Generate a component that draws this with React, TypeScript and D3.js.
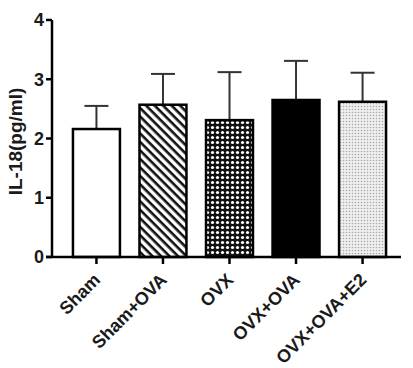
import { useEffect, useRef } from "react"
import * as d3 from "d3"

const groups = ["Sham", "Sham+OVA", "OVX", "OVX+OVA", "OVX+OVA+E2"]
const means = [2.16, 2.57, 2.31, 2.65, 2.62]
const errors = [0.39, 0.52, 0.81, 0.66, 0.49]
const fills = ["#fff", "url(#stripes)", "url(#dots)", "#000", "url(#fine)"]
const yTicks = [0, 1, 2, 3, 4]

export default function App() {
  const svgRef = useRef<SVGSVGElement>(null)

  useEffect(() => {
    if (!svgRef.current) return
    const root = d3.select(svgRef.current)
    root.selectAll("*").remove()

    const font = "'Liberation Sans', Arial, sans-serif"
    const ink = "#1a1a1a"

    // fill patterns
    const defs = root.append("defs")
    const stripes = defs
      .append("pattern")
      .attr("id", "stripes")
      .attr("patternUnits", "userSpaceOnUse")
      .attr("width", 6)
      .attr("height", 6)
      .attr("patternTransform", "rotate(45)")
    stripes.append("rect").attr("width", 6).attr("height", 6).attr("fill", "#fff")
    stripes.append("rect").attr("width", 6).attr("height", 2.6).attr("fill", "#111")

    const dots = defs
      .append("pattern")
      .attr("id", "dots")
      .attr("patternUnits", "userSpaceOnUse")
      .attr("width", 5)
      .attr("height", 5)
    dots.append("rect").attr("width", 5).attr("height", 5).attr("fill", "#111")
    dots.append("circle").attr("cx", 2.5).attr("cy", 2.5).attr("r", 1.6).attr("fill", "#fff")

    const fine = defs
      .append("pattern")
      .attr("id", "fine")
      .attr("patternUnits", "userSpaceOnUse")
      .attr("width", 3)
      .attr("height", 3)
    fine.append("rect").attr("width", 3).attr("height", 3).attr("fill", "#efefef")
    fine.append("circle").attr("cx", 1.5).attr("cy", 1.5).attr("r", 0.8).attr("fill", "#a8a8a8")

    const axisX = 52
    const x = d3.scaleBand<string>().domain(groups).range([axisX, 407]).paddingInner(0.294).paddingOuter(0.315)
    const y = d3.scaleLinear().domain([0, 4]).range([257, 20])

    const g = root.append("g")

    // error bars (upper only)
    groups.forEach((name, i) => {
      const cx = x(name)! + x.bandwidth() / 2
      const top = y(means[i] + errors[i])
      g.append("line")
        .attr("x1", cx)
        .attr("x2", cx)
        .attr("y1", y(means[i]))
        .attr("y2", top)
        .attr("stroke", "#333")
        .attr("stroke-width", 2)
      g.append("line")
        .attr("x1", cx - 12)
        .attr("x2", cx + 12)
        .attr("y1", top)
        .attr("y2", top)
        .attr("stroke", "#333")
        .attr("stroke-width", 2)
    })

    // bars
    g.selectAll(".bar")
      .data(groups)
      .enter()
      .append("rect")
      .attr("x", (d) => x(d)!)
      .attr("y", (d, i) => y(means[i]))
      .attr("width", x.bandwidth())
      .attr("height", (d, i) => y(0) - y(means[i]))
      .attr("fill", (d, i) => fills[i])
      .attr("stroke", "#000")
      .attr("stroke-width", 2.5)

    // y axis
    g.append("line")
      .attr("x1", axisX)
      .attr("x2", axisX)
      .attr("y1", y(4))
      .attr("y2", y(0))
      .attr("stroke", "#000")
      .attr("stroke-width", 2.5)
    yTicks.forEach((t) => {
      g.append("line")
        .attr("x1", axisX - 6)
        .attr("x2", axisX)
        .attr("y1", y(t))
        .attr("y2", y(t))
        .attr("stroke", "#000")
        .attr("stroke-width", 2.5)
      g.append("text")
        .attr("x", axisX - 8)
        .attr("y", y(t))
        .attr("dy", "0.36em")
        .attr("text-anchor", "end")
        .attr("fill", ink)
        .style("font-family", font)
        .style("font-weight", "bold")
        .style("font-size", "18px")
        .text(t)
    })

    // x axis
    g.append("line")
      .attr("x1", axisX - 6)
      .attr("x2", 401)
      .attr("y1", y(0))
      .attr("y2", y(0))
      .attr("stroke", "#000")
      .attr("stroke-width", 2.5)
    groups.forEach((name) => {
      const cx = x(name)! + x.bandwidth() / 2
      g.append("line")
        .attr("x1", cx)
        .attr("x2", cx)
        .attr("y1", y(0))
        .attr("y2", y(0) + 7)
        .attr("stroke", "#000")
        .attr("stroke-width", 2.5)
      g.append("text")
        .attr("transform", `translate(${cx + 5}, ${y(0) + 24}) rotate(-45)`)
        .attr("text-anchor", "end")
        .attr("fill", ink)
        .style("font-family", font)
        .style("font-weight", "bold")
        .style("font-size", "18px")
        .text(name)
    })

    // y label
    g.append("text")
      .attr("transform", `translate(22, ${(y(0) + y(4)) / 2 + 3}) rotate(-90)`)
      .attr("text-anchor", "middle")
      .attr("fill", ink)
      .style("font-family", font)
      .style("font-weight", "bold")
      .style("font-size", "19px")
      .text("IL-18(pg/ml)")
  }, [])

  return (
    <svg
      ref={svgRef}
      width={413}
      height={368}
      style={{ position: "absolute", left: 0, top: 0, background: "#fff" }}
    ></svg>
  )
}
